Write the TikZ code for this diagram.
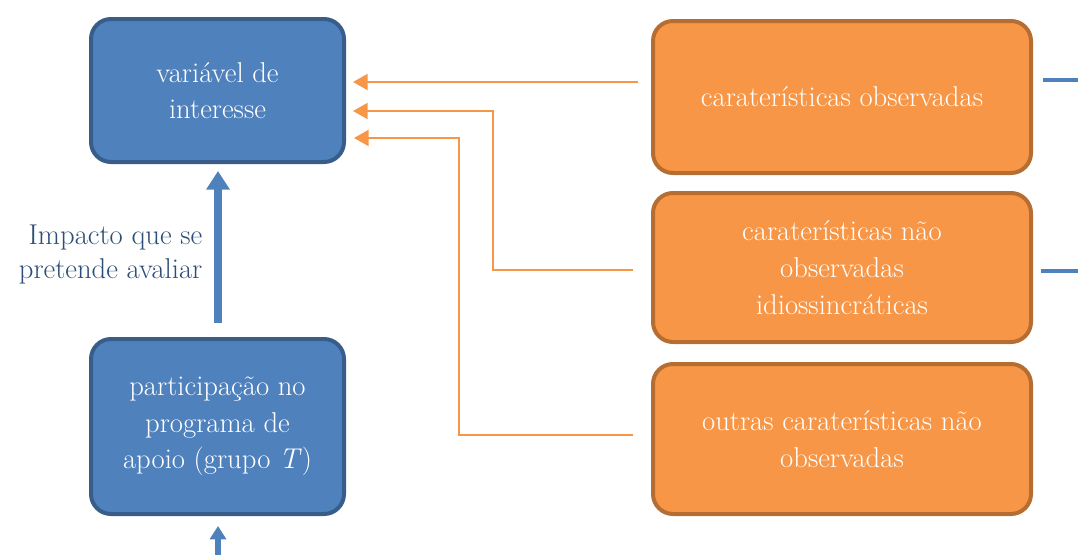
\documentclass[tikz,border=0pt]{standalone}
\usetikzlibrary{arrows.meta}
\definecolor{bfill}{HTML}{4F81BD}
\definecolor{bdraw}{HTML}{385D8A}
\definecolor{ofill}{HTML}{F79646}
\definecolor{odraw}{HTML}{B66D31}
\definecolor{tblue}{HTML}{2C4D75}
\begin{document}
\begin{tikzpicture}[x=0.75pt,y=-0.75pt,
  bbox/.style={draw=bdraw,fill=bfill,line width=3pt,rounded corners=15pt,text=white,align=center,font=\fontsize{21.5}{27.5}\selectfont},
  obox/.style={draw=odraw,fill=ofill,line width=3pt,rounded corners=15pt,text=white,align=center,font=\fontsize{21.5}{27.5}\selectfont},
  oarr/.style={draw=ofill,line width=1.5pt,-{Triangle[length=11pt,width=12pt]}},
  barr/.style={draw=bfill,line width=6pt,-{Triangle[length=14pt,width=17pt]}},
  bline/.style={draw=bfill,line width=3pt}]
\useasboundingbox (0,0) rectangle (1078,554);
\node[bbox,minimum width=253*0.75pt,minimum height=143*0.75pt] (v) at (217.5,90.5) {variável de\\interesse};
\node[bbox,minimum width=253*0.75pt,minimum height=175*0.75pt] (p) at (217.5,426.5) {participação no\\programa de\\apoio (grupo \textit{T})};
\node[obox,minimum width=378*0.75pt,minimum height=152*0.75pt] (o1) at (842,97) {caraterísticas observadas};
\node[obox,minimum width=378*0.75pt,minimum height=149*0.75pt] (o2) at (842,267.5) {caraterísticas não\\observadas\\idiossincráticas};
\node[obox,minimum width=378*0.75pt,minimum height=150*0.75pt] (o3) at (842,439) {outras caraterísticas não\\observadas};
\node[text=tblue,align=right,anchor=east,font=\fontsize{21.5}{25.5}\selectfont] (imp) at (207,254) {Impacto que se\\pretende avaliar};
\coordinate (a1s) at (638,82); \coordinate (a1e) at (353,82);
\coordinate (a2s) at (633,270); \coordinate (a2e) at (353,111);
\coordinate (a3s) at (633,435); \coordinate (a3e) at (354,138);
\draw[oarr] (a1s) -- (a1e);
\draw[oarr] (a2s) -- (493,270) -- (493,111) -- (a2e);
\draw[oarr] (a3s) -- (459,435) -- (459,138) -- (a3e);
\coordinate (bs) at (218,323); \coordinate (be) at (218,171);
\draw[barr] (bs) -- (be);
\coordinate (cs) at (218,556); \coordinate (ce) at (218,526);
\draw[draw=bfill,line width=4pt,-{Triangle[length=10pt,width=12pt]}] (cs) -- (ce);
\coordinate (r1s) at (1043,80); \coordinate (r1e) at (1080,80);
\coordinate (r2s) at (1041,271); \coordinate (r2e) at (1080,271);
\draw[bline] (r1s) -- (r1e);
\draw[bline] (r2s) -- (r2e);
\end{tikzpicture}
\end{document}
